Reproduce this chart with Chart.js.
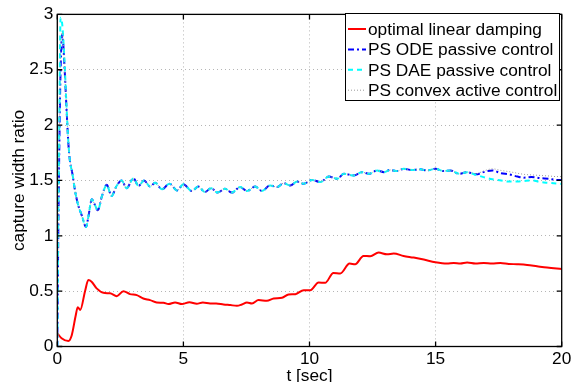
<!DOCTYPE html>
<html>
<head>
<meta charset="utf-8">
<script src="https://cdn.jsdelivr.net/npm/chart.js@4.4.1/dist/chart.umd.min.js"></script>
<style>
  body { margin: 0; background: #fff; }
  canvas { display: block; }
</style>
</head>
<body>
<canvas id="myChart" width="579" height="382"></canvas>
<script>
// red curve
const tRed = [0, 0.17, 0.44, 0.57, 0.73, 0.81, 0.91, 1.1, 1.23, 1.36, 1.56, 1.83, 2.09, 2.36, 2.62, 2.88,
  3.15, 3.41, 3.68, 3.94, 4.21, 4.41, 4.67, 4.94, 5.24, 5.53, 5.77, 6.06, 6.3, 6.59, 6.86, 7.12, 7.32,
  7.52, 7.72, 7.98, 8.31, 8.58, 8.91, 9.17, 9.44, 9.77, 10.03, 10.36, 10.62, 10.95, 11.22, 11.59, 11.81,
  12.14, 12.41, 12.74, 13.07, 13.34, 13.73, 14.13, 14.53, 14.99, 15.45, 15.72, 15.98, 16.25, 16.58,
  16.91, 17.24, 17.57, 17.9, 18.23, 18.63, 19.02, 19.42, 20]
const vRed = [0.12, 0.075, 0.05, 0.1, 0.28, 0.355, 0.33, 0.5, 0.6, 0.585, 0.525, 0.485, 0.48, 0.455, 0.5, 0.473,
  0.464, 0.434, 0.419, 0.398, 0.395, 0.383, 0.398, 0.383, 0.4, 0.386, 0.398, 0.389, 0.388, 0.38, 0.374, 0.368, 0.38,
  0.398, 0.389, 0.419, 0.413, 0.434, 0.44, 0.47, 0.473, 0.509, 0.509, 0.578, 0.575, 0.665, 0.659, 0.749, 0.743,
  0.818, 0.815, 0.848, 0.833, 0.839, 0.818, 0.803, 0.785, 0.761, 0.749, 0.755, 0.749, 0.758, 0.749,
  0.755, 0.749, 0.755, 0.746, 0.743, 0.737, 0.725, 0.713, 0.70]

// PS curves share one time grid
const tPS = [0, 0.03, 0.08, 0.13, 0.2, 0.28, 0.37, 0.44, 0.5, 0.6, 0.7, 0.83, 0.97, 1.14, 1.23, 1.37, 1.47,
  1.61, 1.76, 1.96, 2.15, 2.35, 2.55, 2.75, 3.02, 3.22, 3.44, 3.68, 3.88, 4.15, 4.45, 4.75, 5.0, 5.33, 5.6,
  5.85, 6.1, 6.35, 6.65, 6.92, 7.25, 7.52, 7.85, 8.11, 8.44, 8.71, 8.97, 9.24, 9.51, 9.77, 10.1, 10.43,
  10.77, 11.1, 11.36, 11.76, 12.08, 12.35, 12.68, 12.95, 13.2, 13.47, 13.73, 14.06, 14.4, 14.66, 14.99,
  15.3, 15.6, 15.93, 16.25, 16.6, 16.9, 17.25, 17.6, 17.9, 18.25, 18.5, 18.8, 19.16, 19.5, 19.8, 20]
const vODE = [0, 0.8, 1.8, 2.5, 2.82, 2.55, 2.13, 1.83, 1.68, 1.56, 1.41, 1.275, 1.185, 1.08, 1.17, 1.33, 1.29,
  1.23, 1.35, 1.46, 1.36, 1.45, 1.5, 1.43, 1.52, 1.45, 1.5, 1.445, 1.48, 1.42, 1.47, 1.41, 1.465, 1.405, 1.445,
  1.395, 1.43, 1.39, 1.425, 1.39, 1.44, 1.405, 1.445, 1.405, 1.455, 1.44, 1.475, 1.455, 1.49, 1.47, 1.505, 1.485,
  1.535, 1.515, 1.56, 1.545, 1.575, 1.56, 1.59, 1.575, 1.595, 1.585, 1.605, 1.595, 1.6, 1.59, 1.605,
  1.585, 1.59, 1.56, 1.575, 1.555, 1.575, 1.59, 1.565, 1.555, 1.535, 1.525, 1.53, 1.52, 1.515, 1.505, 1.505]
const vDAE = [0, 0.9, 2.0, 2.97, 2.9, 2.6, 2.15, 1.84, 1.68, 1.56, 1.41, 1.275, 1.185, 1.08, 1.17, 1.33, 1.29,
  1.23, 1.35, 1.46, 1.36, 1.45, 1.5, 1.43, 1.52, 1.45, 1.5, 1.445, 1.48, 1.42, 1.47, 1.41, 1.465, 1.405, 1.445,
  1.395, 1.43, 1.39, 1.425, 1.39, 1.44, 1.405, 1.445, 1.405, 1.455, 1.44, 1.475, 1.455, 1.49, 1.47, 1.505, 1.485,
  1.535, 1.515, 1.56, 1.545, 1.575, 1.56, 1.59, 1.575, 1.595, 1.585, 1.605, 1.595, 1.6, 1.59, 1.605,
  1.585, 1.59, 1.56, 1.575, 1.55, 1.53, 1.51, 1.5, 1.49, 1.49, 1.495, 1.5, 1.485, 1.478, 1.472, 1.468]
const vConvex = [0, 0.85, 1.9, 2.6, 2.85, 2.56, 2.13, 1.83, 1.68, 1.56, 1.41, 1.275, 1.185, 1.08, 1.17, 1.33, 1.29,
  1.23, 1.35, 1.46, 1.36, 1.45, 1.5, 1.43, 1.52, 1.45, 1.5, 1.445, 1.48, 1.42, 1.47, 1.41, 1.465, 1.405, 1.445,
  1.395, 1.43, 1.39, 1.425, 1.39, 1.44, 1.405, 1.445, 1.405, 1.455, 1.44, 1.475, 1.455, 1.49, 1.47, 1.505, 1.485,
  1.535, 1.515, 1.56, 1.545, 1.575, 1.56, 1.59, 1.575, 1.595, 1.585, 1.605, 1.595, 1.6, 1.59, 1.605,
  1.585, 1.59, 1.56, 1.575, 1.56, 1.585, 1.605, 1.59, 1.58, 1.565, 1.555, 1.55, 1.545, 1.54, 1.535, 1.535]

const seriesNames = ['optimal linear damping', 'PS ODE passive control', 'PS DAE passive control', 'PS convex active control']
const xTicks = [0, 5, 10, 15, 20]
const yTicks = [0, 0.5, 1, 1.5, 2, 2.5, 3]

const FONT = '"Liberation Sans", Arial, Helvetica, sans-serif'
const FS = 17.3

function pts(t, v) {
  return t.map((x, i) => ({ x: x, y: v[i] }))
}

// box, inward ticks and the legend like matlab
const boxPlugin = {
  id: 'box',
  afterDatasetsDraw(chart) {
    const ctx = chart.ctx
    const a = chart.chartArea
    const sx = chart.scales.x
    const sy = chart.scales.y
    ctx.save()
    ctx.strokeStyle = '#000'
    ctx.lineWidth = 1.3
    ctx.setLineDash([])
    ctx.strokeRect(a.left, a.top, a.right - a.left, a.bottom - a.top)
    ctx.beginPath()
    xTicks.forEach(t => {
      const px = sx.getPixelForValue(t)
      ctx.moveTo(px, a.bottom); ctx.lineTo(px, a.bottom - 5)
      ctx.moveTo(px, a.top); ctx.lineTo(px, a.top + 5)
    })
    yTicks.forEach(t => {
      const py = sy.getPixelForValue(t)
      ctx.moveTo(a.left, py); ctx.lineTo(a.left + 5, py)
      ctx.moveTo(a.right, py); ctx.lineTo(a.right - 5, py)
    })
    ctx.stroke()

    // legend
    const lx = 345.5, ly = 13.5, lw = 214, lh = 87
    ctx.fillStyle = '#fff'
    ctx.fillRect(lx, ly, lw, lh)
    ctx.lineWidth = 1
    ctx.strokeRect(lx, ly, lw, lh)
    ctx.font = FS + 'px ' + FONT
    ctx.textBaseline = 'middle'
    ctx.textAlign = 'left'
    chart.data.datasets.forEach((ds, i) => {
      const y = 29 + i * 20.4
      ctx.strokeStyle = ds.borderColor
      ctx.lineWidth = ds.borderWidth
      ctx.setLineDash(ds.borderDash || [])
      ctx.beginPath()
      ctx.moveTo(348, y); ctx.lineTo(366, y)
      ctx.stroke()
      ctx.fillStyle = '#000'
      ctx.fillText(seriesNames[i], 368, y + 1)
    })
    ctx.restore()
  }
}

const ctx = document.getElementById('myChart')
new Chart(ctx, {
  type: 'line',
  data: {
    datasets: [{
      data: pts(tRed, vRed),
      borderColor: '#ff0000',
      borderWidth: 2,
      order: 3
    }, {
      data: pts(tPS, vODE),
      borderColor: '#0000ff',
      borderWidth: 2,
      borderDash: [6, 3, 2, 3],
      order: 2
    }, {
      data: pts(tPS, vDAE),
      borderColor: '#00ffff',
      borderWidth: 2,
      borderDash: [5, 4],
      order: 1
    }, {
      data: pts(tPS, vConvex),
      borderColor: '#9a9a9a',
      borderWidth: 1,
      borderDash: [1, 2],
      order: 0
    }]
  },
  options: {
    responsive: false,
    animation: false,
    devicePixelRatio: 1,
    layout: { padding: { top: 13.5, right: 17.3, left: 0, bottom: 0 } },
    elements: {
      point: { radius: 0 },
      line: { cubicInterpolationMode: 'monotone', fill: false }
    },
    plugins: {
      legend: { display: false },
      tooltip: { enabled: false }
    },
    scales: {
      x: {
        type: 'linear',
        min: 0,
        max: 20,
        afterFit(s) { s.height = 35.5 },
        afterBuildTicks(s) { s.ticks = xTicks.map(v => ({ value: v })) },
        ticks: { color: '#000', font: { size: FS, family: FONT }, padding: 2, maxRotation: 0 },
        grid: { color: '#b5b5b5', drawTicks: false, lineWidth: 1 },
        border: { display: false, dash: [1, 3] },
        title: { display: true, text: 't [sec]', color: '#000', font: { size: FS, family: FONT }, padding: { top: 0, bottom: -5 } }
      },
      y: {
        min: 0,
        max: 3,
        afterFit(s) { s.width = 57.3 },
        afterBuildTicks(s) { s.ticks = yTicks.map(v => ({ value: v })) },
        ticks: { color: '#000', font: { size: FS, family: FONT }, padding: 4, callback: v => v + '' },
        grid: { color: '#b5b5b5', drawTicks: false, lineWidth: 1 },
        border: { display: false, dash: [1, 3] },
        title: { display: true, text: 'capture width ratio', color: '#000', font: { size: FS, family: FONT }, padding: { top: 9, bottom: 0 } }
      }
    }
  },
  plugins: [boxPlugin]
})
</script>
</body>
</html>
